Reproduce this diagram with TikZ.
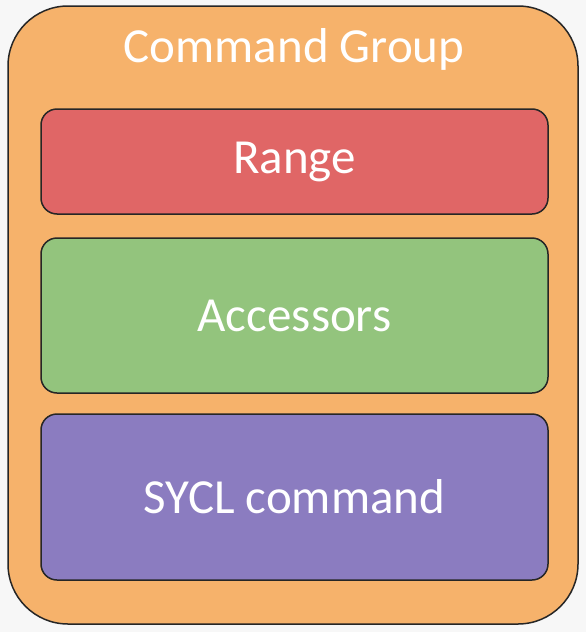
\documentclass[tikz,border=0pt]{standalone}
\usepackage{fontspec}
\setmainfont{Carlito}
\usepackage{tikz}
\usetikzlibrary{positioning}
\definecolor{groupbg}{RGB}{246,178,107}
\definecolor{rangered}{RGB}{224,102,102}
\definecolor{accgreen}{RGB}{147,196,125}
\definecolor{cmdpurple}{RGB}{139,124,192}
\definecolor{pagebg}{RGB}{247,247,247}

\begin{document}
\begin{tikzpicture}[x=1pt,y=-1pt,every node/.style={font=\fontsize{49}{56}\selectfont,text=white},
  part/.style={draw=black!85,line width=1.5pt,rounded corners=16pt,minimum width=507pt,inner sep=0pt}]
\fill[pagebg] (0,0) rectangle (586,632);
\useasboundingbox (0,0) rectangle (586,632);
\node[draw=black!85,line width=1.5pt,fill=groupbg,rounded corners=60pt,minimum width=570pt,minimum height=618pt] (group) at (293,315) {};
\node (title) at (294,49) {Command Group};
\node[part,fill=rangered,minimum height=105pt] (range) at (294.5,161.5) {Range};
\node[part,fill=accgreen,minimum height=155pt] (acc) at (294.5,315.5) {Accessors};
\node[part,fill=cmdpurple,minimum height=166pt] (cmd) at (294.5,497) {SYCL command};
\end{tikzpicture}
\end{document}
